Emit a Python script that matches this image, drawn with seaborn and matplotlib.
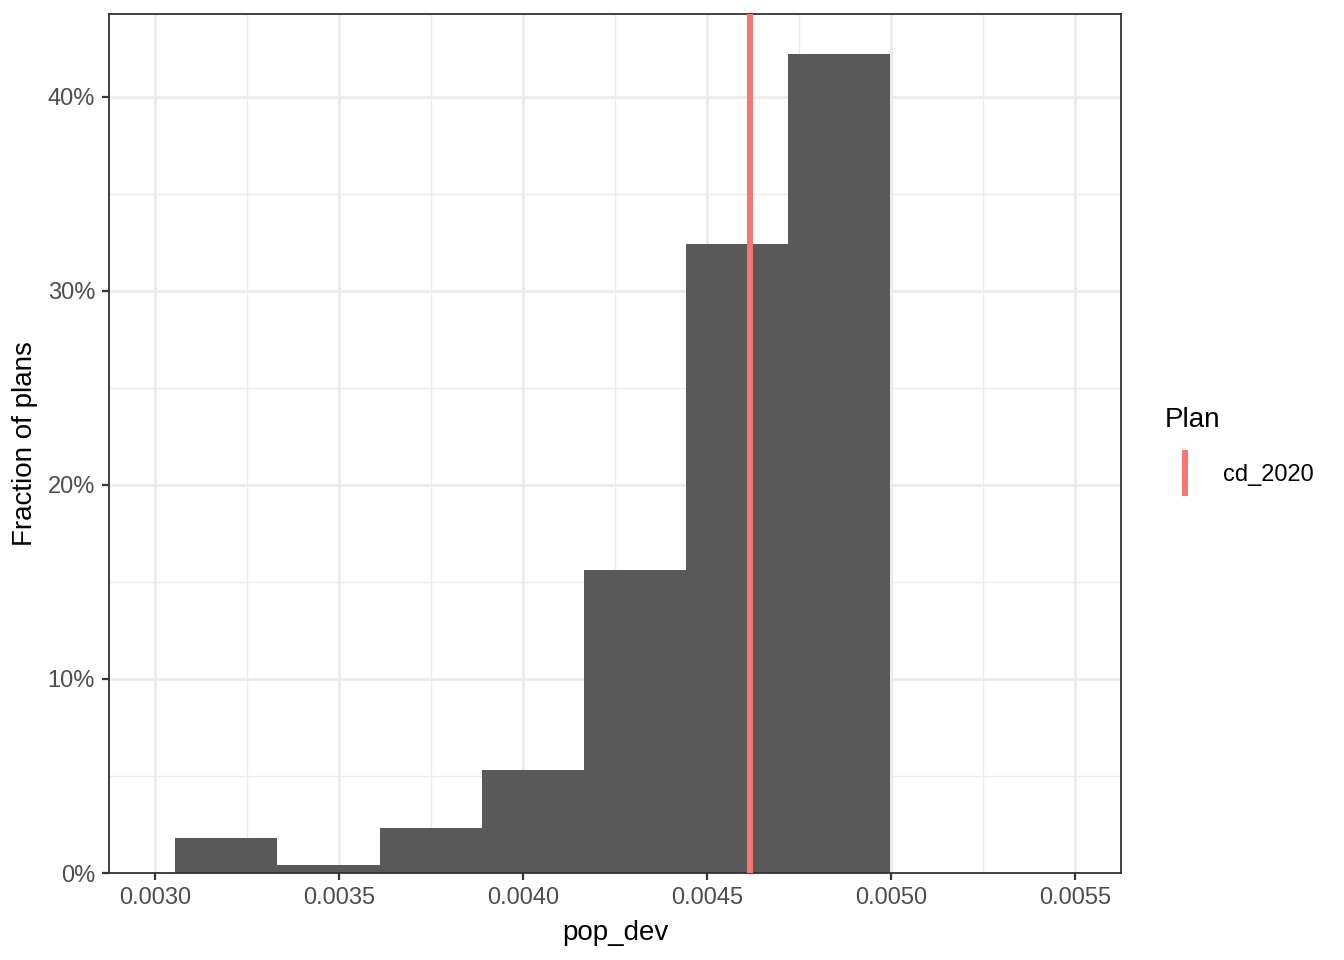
import matplotlib
matplotlib.use("Agg")
import matplotlib.pyplot as plt
import seaborn as sns
from matplotlib.lines import Line2D
from matplotlib.ticker import PercentFormatter, FormatStrFormatter, MultipleLocator

# histogram bins
bin_edges = [0.003054, 0.003332, 0.003611, 0.003889, 0.004166, 0.004443, 0.004720, 0.004997]
bin_mids = [0.003193, 0.003472, 0.003750, 0.004028, 0.004305, 0.004582, 0.004859]
fraction = [0.018, 0.004, 0.023, 0.053, 0.156, 0.324, 0.422]

plan_name = "cd_2020"
plan_value = 0.004617
plan_color = "#F8766D"

sns.set_theme(style="white")
plt.rcParams["font.family"] = ["Liberation Sans", "DejaVu Sans"]
plt.rcParams["text.color"] = "black"

fig = plt.figure(figsize=(13.44, 9.6), dpi=100)
ax = fig.add_axes([109 / 1344, 1 - 873 / 960, (1121 - 109) / 1344, (873 - 14) / 960])

sns.histplot(x=bin_mids, weights=fraction, bins=bin_edges, color="#595959",
             alpha=1, linewidth=0, ax=ax)
ax.axvline(plan_value, color=plan_color, linewidth=4.3, zorder=3)

ax.set_xlim(0.002875, 0.005625)
ax.set_ylim(0, 0.4427)
ax.xaxis.set_major_locator(MultipleLocator(0.0005))
ax.xaxis.set_minor_locator(MultipleLocator(0.00025))
ax.yaxis.set_major_locator(MultipleLocator(0.1))
ax.yaxis.set_minor_locator(MultipleLocator(0.05))
ax.xaxis.set_major_formatter(FormatStrFormatter("%.4f"))
ax.yaxis.set_major_formatter(PercentFormatter(xmax=1, decimals=0))

ax.grid(which="major", color="#EBEBEB", linewidth=2.0)
ax.grid(which="minor", color="#EBEBEB", linewidth=1.0)
ax.set_axisbelow(True)
for s in ax.spines.values():
    s.set_color("#333333")
    s.set_linewidth(1.3)

ax.tick_params(axis="both", which="major", length=5, width=1.6, color="#333333",
               labelsize=17, labelcolor="#4D4D4D", pad=5, bottom=True, left=True)
ax.tick_params(axis="both", which="minor", length=0)

ax.set_xlabel("pop_dev", fontsize=20, color="black", labelpad=8)
ax.set_ylabel("Fraction of plans", fontsize=20, color="black", labelpad=7)

handle = Line2D([], [], color=plan_color, marker="|", linestyle="None",
                markersize=33, markeredgewidth=4.3)
leg = fig.legend([handle], [plan_name], title="Plan", loc="upper left",
                 bbox_to_anchor=(1155 / 1344, 1 - 398 / 960), frameon=False,
                 fontsize=17, title_fontsize=20, handlelength=1.78,
                 handletextpad=0.68, borderaxespad=0, labelspacing=0)
leg._legend_box.align = "left"
leg._legend_box.sep = 22

fig.savefig("out.png", dpi=100)
